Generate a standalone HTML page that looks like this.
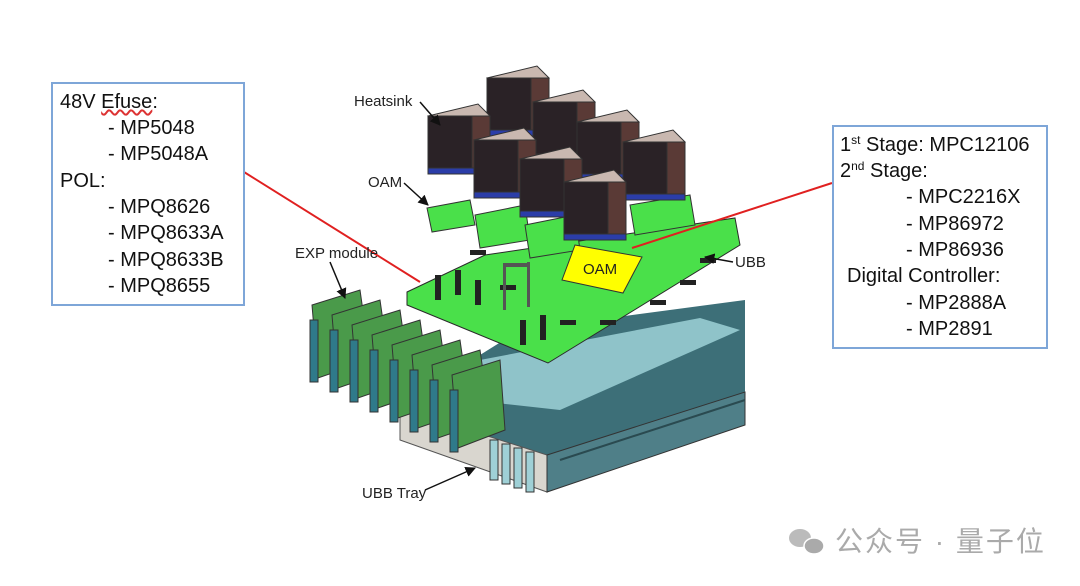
<!DOCTYPE html><html><head><meta charset="utf-8"><style>
body{margin:0;width:1080px;height:586px;background:#fff;overflow:hidden;position:relative;font-family:"Liberation Sans",sans-serif}
.box{position:absolute;border:2px solid #7ea6d8;box-sizing:border-box}
.t{position:absolute;font-size:20px;color:#111;white-space:nowrap;line-height:1}
.l{position:absolute;font-size:15px;color:#222;white-space:nowrap;line-height:1}
sup{font-size:12px;vertical-align:7px;line-height:0}
</style></head><body>
<svg width="1080" height="586" style="position:absolute;left:0;top:0">
<defs><marker id="a" viewBox="0 0 10 10" refX="9" refY="5" markerWidth="7" markerHeight="7" orient="auto"><path d="M0,0 L10,5 L0,10 z" fill="#111"/></marker>
<g id="hs"><polygon points="0,12 50,0 62,12 12,24" fill="#c9b8b0"/><rect x="0" y="12" width="62" height="58" fill="#2a2226"/><rect x="44" y="12" width="18" height="58" fill="#5a3a36"/><rect x="0" y="64" width="62" height="6" fill="#2b3da8"/></g></defs>
<!-- tray -->
<polygon points="400,405 520,330 745,300 745,425 547,492 400,440" fill="#3d6f78"/>
<polygon points="480,360 700,318 740,330 560,410 470,400" fill="#8fc3c9"/>
<polygon points="400,408 547,455 547,492 400,440" fill="#d9d6cf" stroke="#555" stroke-width="1"/>
<polygon points="547,455 745,392 745,425 547,492" fill="#4f7f88" stroke="#333" stroke-width="1"/>
<line x1="560" y1="460" x2="745" y2="400" stroke="#2a4a50" stroke-width="2"/>
<g fill="#9fd0d6" stroke="#333" stroke-width="1">
<rect x="490" y="440" width="8" height="40"/><rect x="502" y="444" width="8" height="40"/><rect x="514" y="448" width="8" height="40"/><rect x="526" y="452" width="8" height="40"/></g>
<!-- EXP cards -->
<g stroke="#333" stroke-width="1">
<g fill="#4a9a4a"><polygon points="312,305 360,290 370,360 318,378"/><polygon points="332,315 380,300 390,370 338,388"/><polygon points="352,325 400,310 410,380 358,398"/><polygon points="372,335 420,320 430,390 378,408"/><polygon points="392,345 440,330 450,400 398,418"/><polygon points="412,355 460,340 470,410 418,428"/><polygon points="432,365 480,350 490,420 438,438"/><polygon points="452,375 500,360 505,430 458,448"/></g>
<g fill="#2f7a8a"><rect x="310" y="320" width="8" height="62"/><rect x="330" y="330" width="8" height="62"/><rect x="350" y="340" width="8" height="62"/><rect x="370" y="350" width="8" height="62"/><rect x="390" y="360" width="8" height="62"/><rect x="410" y="370" width="8" height="62"/><rect x="430" y="380" width="8" height="62"/><rect x="450" y="390" width="8" height="62"/></g></g>
<!-- UBB board -->
<polygon points="407,292 485,255 735,218 740,245 548,363 407,305" fill="#4ae04a" stroke="#2a2a2a" stroke-width="1"/>
<g fill="#222"><rect x="435" y="275" width="6" height="25"/><rect x="455" y="270" width="6" height="25"/><rect x="475" y="280" width="6" height="25"/><rect x="500" y="285" width="16" height="5"/><rect x="520" y="320" width="6" height="25"/><rect x="540" y="315" width="6" height="25"/><rect x="560" y="320" width="16" height="5"/><rect x="650" y="300" width="16" height="5"/><rect x="680" y="280" width="16" height="5"/><rect x="700" y="258" width="16" height="5"/><rect x="470" y="250" width="16" height="5"/><rect x="600" y="320" width="16" height="5"/></g>
<rect x="503" y="265" width="3" height="45" fill="#555"/><rect x="527" y="262" width="3" height="45" fill="#555"/><rect x="503" y="263" width="27" height="4" fill="#555"/>
<!-- OAM boards -->
<g fill="#4ae04a" stroke="#333" stroke-width="1"><polygon points="427,208 470,200 475,225 432,232"/><polygon points="475,215 525,205 530,240 480,248"/><polygon points="525,225 575,215 580,250 530,258"/><polygon points="630,205 690,195 695,225 635,235"/></g>
<!-- yellow OAM -->
<polygon points="575,245 642,257 623,293 562,280" fill="#ffff00" stroke="#333" stroke-width="1"/>
<!-- heatsinks -->
<g stroke="#333" stroke-width="1">
<use href="#hs" x="487" y="66"/><use href="#hs" x="533" y="90"/><use href="#hs" x="577" y="110"/><use href="#hs" x="623" y="130"/>
<use href="#hs" x="428" y="104"/><use href="#hs" x="474" y="128"/><use href="#hs" x="520" y="147"/><use href="#hs" x="564" y="170"/>
</g>
<!-- red lines -->
<line x1="244" y1="172" x2="420" y2="282" stroke="#e02020" stroke-width="2"/>
<line x1="832" y1="183" x2="632" y2="248" stroke="#e02020" stroke-width="2"/>
<!-- arrows -->
<g stroke="#111" stroke-width="1.5" fill="none" marker-end="url(#a)"><line x1="420" y1="102" x2="440" y2="125"/><line x1="404" y1="183" x2="428" y2="205"/><line x1="330" y1="262" x2="345" y2="298"/><line x1="733" y1="262" x2="705" y2="257"/><line x1="425" y1="490" x2="475" y2="468"/></g>
<!-- wechat icon -->
<ellipse cx="800" cy="538" rx="11" ry="9" fill="#bbb"/><ellipse cx="814" cy="546" rx="10" ry="8" fill="#aaa" stroke="#fff" stroke-width="1.5"/>
</svg>
<div class="box" style="left:51px;top:82px;width:194px;height:224px"></div>
<div class="box" style="left:832px;top:125px;width:216px;height:224px"></div>
<div class="t" style="left:60px;top:92px">48V <span style="text-decoration:underline wavy #d33">Efuse</span>:</div>
<div class="t" style="left:108px;top:118px">- MP5048</div>
<div class="t" style="left:108px;top:144px">- MP5048A</div>
<div class="t" style="left:60px;top:171px">POL:</div>
<div class="t" style="left:108px;top:197px">- MPQ8626</div>
<div class="t" style="left:108px;top:223px">- MPQ8633A</div>
<div class="t" style="left:108px;top:250px">- MPQ8633B</div>
<div class="t" style="left:108px;top:276px">- MPQ8655</div>
<div class="t" style="left:840px;top:135px">1<sup>st</sup> Stage: MPC12106</div>
<div class="t" style="left:840px;top:161px">2<sup>nd</sup> Stage:</div>
<div class="t" style="left:906px;top:187px">- MPC2216X</div>
<div class="t" style="left:906px;top:214px">- MP86972</div>
<div class="t" style="left:906px;top:240px">- MP86936</div>
<div class="t" style="left:847px;top:266px">Digital Controller:</div>
<div class="t" style="left:906px;top:293px">- MP2888A</div>
<div class="t" style="left:906px;top:319px">- MP2891</div>
<div class="l" style="left:354px;top:94px">Heatsink</div>
<div class="l" style="left:368px;top:175px">OAM</div>
<div class="l" style="left:295px;top:246px">EXP module</div>
<div class="l" style="left:735px;top:255px">UBB</div>
<div class="l" style="left:362px;top:486px">UBB Tray</div>
<div class="l" style="left:583px;top:262px;font-size:15px">OAM</div>
<div style="position:absolute;left:835px;top:528px;font-size:28px;letter-spacing:2px;color:#aaa;font-family:'Liberation Sans','Noto Sans CJK SC',sans-serif;line-height:1;white-space:nowrap">公众号 · 量子位</div>
</body></html>
